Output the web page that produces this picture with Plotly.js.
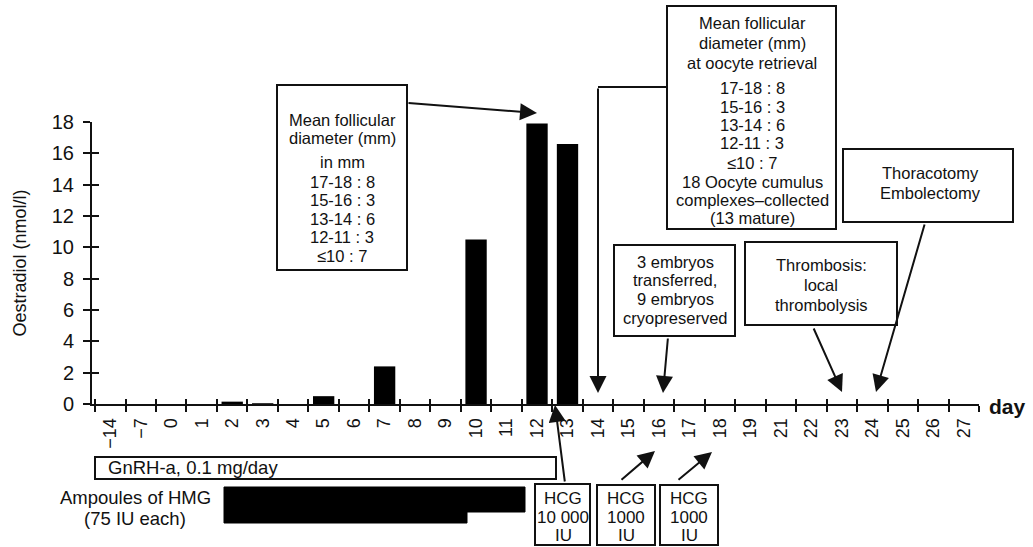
<!DOCTYPE html>
<html>
<head>
<meta charset="utf-8">
<script src="https://cdn.plot.ly/plotly-3.0.1.min.js"></script>
<style>html,body{margin:0;padding:0;background:#fff;}#chart{width:1033px;height:547px;}</style>
</head>
<body>
<div id="chart"></div>
<script>
// ---- data ----
const days = ['−14','−7','0','1','2','3','4','5','6','7','8','9','10','11','12','13','14','15','16','17','18','19','21','22','23','24','25','26','27'];
const oestradiol = [0,0,0,0,0.15,0.05,0,0.5,0,2.4,0,0,10.5,0,17.9,16.6,0,0,0,0,0,0,0,0,0,0,0,0,0];
const yTicks = [0,2,4,6,8,10,12,14,16,18];

// ---- helpers (pixel -> paper) ----
const L = 92, R = 979, T = 122, B = 404;
const W = R - L, H = B - T;
const X = px => (px - L) / W;
const Y = py => (B - py) / H;
const FONT = 'Liberation Sans, Arial, Helvetica, sans-serif';
const INK = '#111';

function rect(x0, y0, x1, y1) {
  return {type:'rect', xref:'paper', yref:'paper', x0:X(x0), x1:X(x1), y0:Y(y1), y1:Y(y0),
          line:{color:INK, width:2}, fillcolor:'rgba(0,0,0,0)', layer:'above'};
}
function seg(x0, y0, x1, y1) {
  return {type:'line', xref:'paper', yref:'paper', x0:X(x0), x1:X(x1), y0:Y(y0), y1:Y(y1),
          line:{color:INK, width:2}};
}
function txt(s, xpx, ypx, size, xanchor, bold) {
  return {xref:'paper', yref:'paper', x:X(xpx), y:Y(ypx), text:bold ? '<b>'+s+'</b>' : s,
          showarrow:false, xanchor:xanchor || 'center', yanchor:'middle',
          font:{family:FONT, size:size || 16.5, color:INK}};
}
function lines(arr, xpx, size) {
  return arr.map(([s, y]) => txt(s, xpx, y, size));
}
function arrow(hx, hy, tx, ty) {
  return {xref:'paper', yref:'paper', x:X(hx), y:Y(hy), ax:tx - hx, ay:ty - hy, text:'',
          showarrow:true, arrowhead:2, arrowsize:1.7, arrowwidth:2, arrowcolor:INK, standoff:0, startstandoff:0};
}

const shapes = [
  rect(277, 85, 407, 270),
  rect(667, 6, 836, 229),
  rect(614, 245, 735, 336),
  rect(745, 242, 897, 325),
  rect(843, 149, 1013, 222),
  rect(95, 457, 556, 479),
  rect(535, 484, 590, 545),
  rect(597, 485, 655, 545),
  rect(660, 485, 718, 545),
  seg(598, 87, 667, 87),
  {type:'path', xref:'paper', yref:'paper',
   path:'M'+X(224)+','+Y(487)+' L'+X(525)+','+Y(487)+' L'+X(525)+','+Y(512)+' L'+X(467)+','+Y(512)+
        ' L'+X(467)+','+Y(523)+' L'+X(224)+','+Y(523)+' Z',
   fillcolor:'#000', line:{color:'#000', width:1}}
];

const annotations = [].concat(
  lines([['Mean follicular',120],['diameter (mm)',138],['in mm',162],['17-18 : 8',182],['15-16 : 3',200],
         ['13-14 : 6',219],['12-11 : 3',237],['≤10 : 7',256]], 342),
  lines([['Mean follicular',23],['diameter (mm)',43],['at oocyte retrieval',63],['17-18 : 8',88],['15-16 : 3',107],
         ['13-14 : 6',125],['12-11 : 3',143],['≤10 : 7',163],['18 Oocyte cumulus',182],['complexes–collected',200],
         ['(13 mature)',218]], 752),
  lines([['3 embryos',262],['transferred,',280],['9 embryos',299],['cryopreserved',318]], 675),
  lines([['Thrombosis:',265],['local',285],['thrombolysis',305]], 821),
  lines([['Thoracotomy',173],['Embolectomy',193]], 930),
  lines([['HCG',498],['10 000',517],['IU',535]], 563, 17),
  lines([['HCG',498],['1000',517],['IU',535]], 626, 17),
  lines([['HCG',498],['1000',517],['IU',535]], 689, 17),
  [txt('GnRH-a, 0.1 mg/day', 106, 468, 18.5, 'left'),
   txt('Ampoules of HMG', 135, 497, 18.5),
   txt('(75 IU each)', 135, 518, 18.5),
   txt('day', 987, 406, 21, 'left', true),
   arrow(537, 113, 407, 103),
   arrow(598, 393, 598, 87),
   arrow(663, 393, 668, 337),
   arrow(842, 392, 813, 327),
   arrow(876, 392, 925, 223),
   arrow(555, 405, 565, 483),
   arrow(655, 451, 620, 481),
   arrow(712, 452, 677, 481)]
);

const data = [
  {type:'bar', x:days, y:oestradiol, width:0.7, marker:{color:'#000', line:{width:0}}, hoverinfo:'skip', showlegend:false},
  {type:'scatter', mode:'markers', x:days, y:oestradiol, xaxis:'x2', yaxis:'y2', marker:{opacity:0}, hoverinfo:'skip', showlegend:false}
];

const layout = {
  width:1033, height:547,
  margin:{l:L, r:1033 - R, t:T, b:547 - B},
  paper_bgcolor:'#fff', plot_bgcolor:'#fff',
  font:{family:FONT, color:INK},
  showlegend:false,
  xaxis:{type:'category', categoryorder:'array', categoryarray:days, range:[-0.6, 28.5],
         tickson:'boundaries', ticks:'outside', ticklen:6, tickwidth:2, tickcolor:INK,
         showline:true, linewidth:2, linecolor:INK, showgrid:false, zeroline:false,
         tickangle:-90, tickfont:{family:FONT, size:18, color:INK}, ticklabelstandoff:5, fixedrange:true},
  yaxis:{range:[0, 18], tickvals:yTicks, ticks:'outside', ticklen:7, tickwidth:2, tickcolor:INK,
         showline:true, linewidth:2, linecolor:INK, showgrid:false, zeroline:false,
         tickfont:{family:FONT, size:20, color:INK}, ticklabelstandoff:5,
         title:{text:'Oestradiol (nmol/l)', font:{family:FONT, size:18, color:INK}, standoff:20}, fixedrange:true},
  xaxis2:{type:'category', categoryorder:'array', categoryarray:days, range:[-0.6, 28.5], overlaying:'x', anchor:'y2',
          tickson:'boundaries', ticks:'inside', ticklen:5, tickwidth:2, tickcolor:INK,
          showticklabels:false, showline:false, showgrid:false, zeroline:false},
  yaxis2:{range:[0, 18], tickvals:yTicks, overlaying:'y', anchor:'x2', ticks:'inside', ticklen:7, tickwidth:2, tickcolor:INK,
          showticklabels:false, showline:false, showgrid:false, zeroline:false},
  bargap:0.3,
  shapes:shapes,
  annotations:annotations
};

Plotly.newPlot('chart', data, layout, {displayModeBar:false, staticPlot:true});
</script>
</body>
</html>
